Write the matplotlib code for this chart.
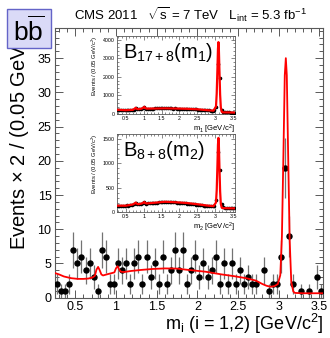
import numpy as np
import matplotlib.pyplot as plt
from matplotlib.patches import Rectangle
from matplotlib.ticker import MultipleLocator

plt.rcParams['font.family'] = ['Liberation Sans', 'DejaVu Sans']
plt.rcParams['mathtext.fontset'] = 'custom'
plt.rcParams['mathtext.rm'] = 'Liberation Sans'
plt.rcParams['mathtext.it'] = 'Liberation Sans:italic'

# bin centres, 0.05 GeV bins from 0.25 to 3.55
centers = np.arange(66) * 0.05 + 0.275

# main plot counts (events x 2 per bin)
counts = [2, 1, 1, 2, 7, 5, 6, 4, 5, 3,
          1, 7, 6, 2, 2, 5, 4, 5, 2, 5,
          6, 2, 6, 3, 5, 2, 6, 2, 4, 7,
          4, 7, 2, 4, 6, 3, 5, 3, 4, 6,
          2, 5, 2, 5, 2, 4, 2, 3, 2, 2,
          0, 4, 1, 2, 2, 6, 19, 9, 2, 0,
          1, 0, 1, 0, 3, 1]

# fit curve
fit_x = [0.25, 0.30, 0.36, 0.45, 0.53, 0.60, 0.66, 0.71, 0.74, 0.76, 0.78, 0.80, 0.82, 0.84,
         0.90, 0.95, 0.98, 1.00, 1.02, 1.04, 1.06, 1.10, 1.18, 1.30, 1.45, 1.60, 1.75, 1.90,
         2.10, 2.30, 2.45, 2.60, 2.72, 2.76, 2.80, 2.85, 2.90, 2.95, 2.99, 3.02, 3.04, 3.06,
         3.075, 3.088, 3.10, 3.115, 3.135, 3.155, 3.18, 3.20, 3.30, 3.55]
fit_y = [3.6, 3.4, 3.1, 2.85, 2.75, 2.75, 2.8, 2.95, 3.2, 4.1, 4.5, 4.0, 3.4, 3.25,
         3.45, 3.6, 3.7, 4.3, 4.6, 4.1, 3.8, 3.75, 3.9, 4.05, 4.2, 4.28, 4.25, 4.05,
         3.8, 3.4, 3.15, 2.85, 2.5, 2.25, 2.0, 1.75, 1.6, 1.7, 2.0, 3.3, 9.0, 22.0,
         32.5, 35.0, 32.5, 22.0, 8.5, 2.3, 0.9, 0.7, 0.65, 0.65]

# inset 1: B_17+8 (m1)
ins1_counts = [220, 210, 205, 200, 210, 215, 205, 210, 220, 240,
               330, 260, 250, 270, 300, 380, 290, 280, 285, 290,
               295, 300, 300, 305, 300, 310, 305, 300, 305, 300,
               300, 295, 300, 295, 290, 290, 285, 280, 280, 275,
               270, 265, 260, 255, 250, 240, 235, 225, 220, 210,
               200, 190, 180, 175, 190, 400, 2700, 1950, 230, 120,
               100, 90, 85, 80, 80, 75]
ins1_fit_x = [0.25, 0.50, 0.70, 0.76, 0.78, 0.80, 0.85, 0.95, 1.00, 1.02, 1.04, 1.08, 1.30,
              1.60, 1.90, 2.20, 2.50, 2.75, 2.95, 3.02, 3.04, 3.06, 3.075, 3.088, 3.10,
              3.115, 3.135, 3.155, 3.18, 3.20, 3.55]
ins1_fit_y = [230, 205, 225, 300, 340, 290, 260, 290, 350, 390, 330, 290, 295,
              305, 295, 280, 255, 210, 180, 400, 1100, 2400, 3500, 3870, 3500,
              2400, 1050, 350, 120, 90, 80]

# inset 2: B_8+8 (m2)
ins2_counts = [130, 125, 130, 135, 130, 140, 135, 145, 150, 165,
               200, 165, 160, 170, 180, 210, 175, 180, 185, 190,
               195, 200, 200, 205, 210, 215, 215, 220, 215, 210,
               210, 205, 205, 200, 200, 195, 190, 185, 180, 175,
               170, 165, 160, 160, 155, 150, 145, 140, 135, 130,
               125, 125, 120, 120, 130, 250, 1230, 865, 170, 100,
               90, 85, 85, 80, 80, 80]
ins2_fit_x = ins1_fit_x
ins2_fit_y = [135, 135, 160, 185, 200, 180, 165, 180, 200, 210, 195, 180, 195,
              215, 205, 190, 165, 140, 125, 200, 450, 950, 1380, 1520, 1380,
              950, 430, 170, 95, 85, 80]

frame_col = '0.35'

fig = plt.figure(figsize=(3.3, 3.38), dpi=100)
ax = fig.add_axes([0.1667, 0.1192, 0.8133, 0.7978])

c = np.array(counts, dtype=float)
m = c > 0
ax.errorbar(centers[m], c[m], yerr=np.sqrt(c[m]), fmt='o', color='black', ms=3.6,
            ecolor='0.45', elinewidth=0.9, capsize=0, zorder=3)
ax.plot(fit_x, fit_y, color='red', lw=1.3, zorder=4)

ax.set_xlim(0.25, 3.55)
ax.set_ylim(0, 39.4)
ax.xaxis.set_major_locator(MultipleLocator(0.5))
ax.xaxis.set_minor_locator(MultipleLocator(0.1))
ax.yaxis.set_major_locator(MultipleLocator(5))
ax.yaxis.set_minor_locator(MultipleLocator(1))
ax.set_xticks([0.5, 1, 1.5, 2, 2.5, 3, 3.5])
ax.set_xticklabels(['0.5', '1', '1.5', '2', '2.5', '3', '3.5'])
ax.tick_params(which='both', direction='in', top=True, right=True, colors=frame_col,
               labelcolor='black', labelsize=9, width=0.7)
ax.tick_params(which='major', length=5.5, pad=2.5)
ax.tick_params(which='minor', length=3)
for s in ax.spines.values():
    s.set_color(frame_col)
    s.set_linewidth(0.8)

ax.set_xlabel(r'm$_{\rm i}$ (i = 1,2) [GeV/c$^2$]', fontsize=13, loc='right', labelpad=-1)
# y label runs up under the b-bbar box, as in the original
fig.text(19 / 330, 1 - 250 / 338, r'Events $\times$ 2 / (0.05 GeV/c$^2$)', rotation=90,
         ha='center', va='bottom', fontsize=14.5)

fig.text(74 / 330, 1 - 15 / 338,
         r'CMS 2011   $\sqrt{\rm s}$ = 7 TeV   L$_{\rm int}$ = 5.3 fb$^{-1}$',
         ha='left', va='center', fontsize=9.5)

# b bbar box
box = Rectangle((7.3 / 330, 1 - 48.3 / 338), 43.4 / 330, 39 / 338, transform=fig.transFigure,
                facecolor='#dadaf7', edgecolor='#6464c8', lw=1.0, zorder=10)
fig.add_artist(box)
fig.text(29 / 330, 1 - 31 / 338, r'b$\overline{\rm b}$', ha='center', va='center',
         fontsize=19, zorder=11)


def draw_inset(rect, vals, fx, fy, ymax, yticks, label, xlab):
    a = fig.add_axes(rect)
    a.set_facecolor('white')
    v = np.array(vals, dtype=float)
    a.errorbar(centers, v, yerr=np.sqrt(v), fmt='o', color='black', ms=1.6,
               ecolor='0.3', elinewidth=0.6, capsize=0, zorder=3)
    a.plot(fx, fy, color='red', lw=1.6, zorder=4)
    a.set_xlim(0.25, 3.55)
    a.set_ylim(0, ymax)
    a.set_xticks([0.5, 1, 1.5, 2, 2.5, 3, 3.5])
    a.set_xticklabels(['0.5', '1', '1.5', '2', '2.5', '3', '3.5'])
    a.xaxis.set_minor_locator(MultipleLocator(0.1))
    a.set_yticks(yticks)
    a.yaxis.set_minor_locator(MultipleLocator(yticks[1] / 5))
    a.tick_params(which='both', direction='in', top=True, right=True, colors=frame_col,
                  labelcolor='black', labelsize=3.8, width=0.5, pad=1.5)
    a.tick_params(which='major', length=3)
    a.tick_params(which='minor', length=1.5)
    for s in a.spines.values():
        s.set_color(frame_col)
        s.set_linewidth(0.6)
    a.set_xlabel(xlab, fontsize=5.5, loc='right', labelpad=1)
    a.set_ylabel(r'Events / (0.05 GeV/c$^2$)', fontsize=4.2, loc='top', labelpad=2)
    a.text(0.05, 0.93, label, transform=a.transAxes, ha='left', va='top', fontsize=14.5)
    return a


draw_inset([0.3536, 0.6627, 0.3585, 0.2308], ins1_counts, ins1_fit_x, ins1_fit_y,
           4200, [0, 1000, 2000, 3000, 4000], r'B$_{17+8}$(m$_1$)', r'm$_1$ [GeV/c$^2$]')
draw_inset([0.3536, 0.3719, 0.3585, 0.2317], ins2_counts, ins2_fit_x, ins2_fit_y,
           1600, [0, 500, 1000, 1500], r'B$_{8+8}$(m$_2$)', r'm$_2$ [GeV/c$^2$]')

fig.savefig('out.png', dpi=100)
